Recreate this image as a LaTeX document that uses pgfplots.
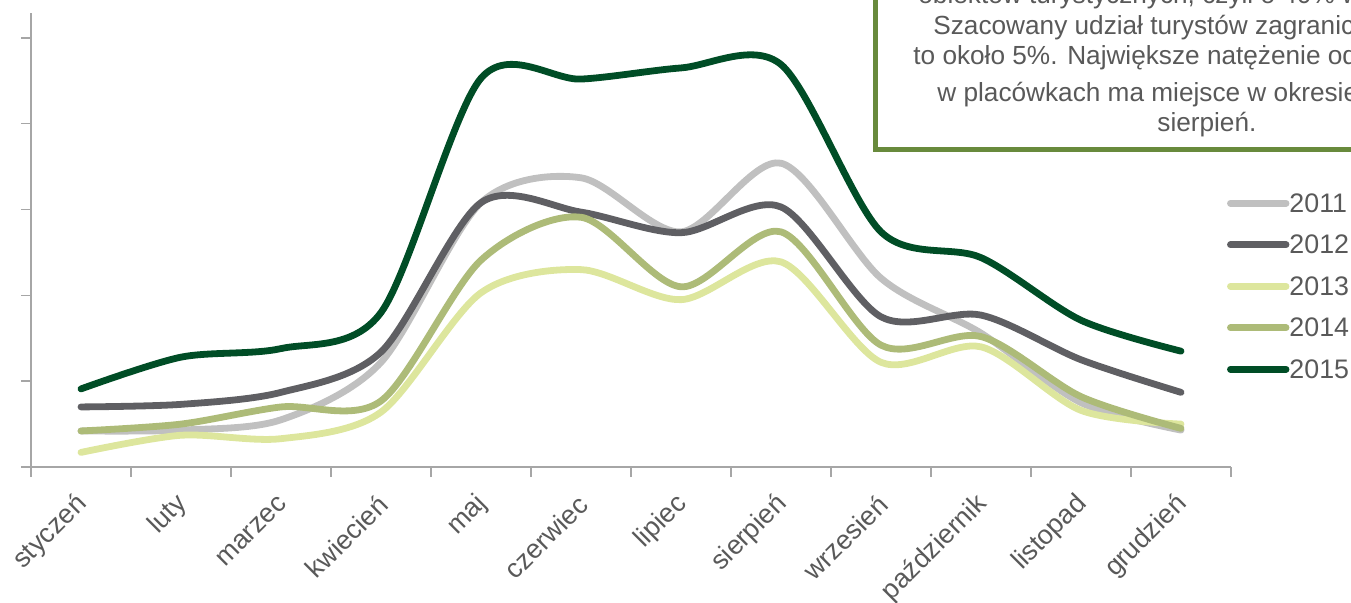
\documentclass[border=0pt]{standalone}
\usepackage{fontspec}
\setmainfont{Liberation Sans}
\usepackage{pgfplots}
\pgfplotsset{compat=1.18}

\definecolor{c2011}{HTML}{C0C0C0}
\definecolor{c2012}{HTML}{5F5F63}
\definecolor{c2013}{HTML}{DDE69D}
\definecolor{c2014}{HTML}{ADBB78}
\definecolor{c2015}{HTML}{004D26}
\definecolor{axgray}{HTML}{A6A6A6}
\definecolor{txtgray}{HTML}{595959}
\definecolor{boxgreen}{HTML}{688A3C}

\newcommand{\lbl}{\fontsize{13.4}{15}\selectfont}
\newcommand{\boxfont}{\fontsize{13.1}{15}\selectfont}

\begin{document}
\begin{tikzpicture}
\useasboundingbox (-15.5pt,-67.5pt) rectangle (660pt,233.5pt);
\clip (-15.5pt,-67.5pt) rectangle (660pt,233.5pt);
\begin{axis}[
  scale only axis, width=600pt, height=227pt,
  xmin=0.5, xmax=12.5, ymin=0, ymax=5.29,
  axis x line*=bottom, axis y line*=left,
  axis line style={axgray, line width=0.7pt, -},
  xtick={0.5,1.5,...,12.5}, xticklabels={},
  ytick={0,1,...,5}, yticklabels={},
  tick align=outside, major tick length=5pt,
  tick style={axgray, line width=0.7pt},
  extra x ticks={1,...,12},
  extra x tick labels={styczeń,luty,marzec,kwiecień,maj,czerwiec,lipiec,sierpień,wrzesień,październik,listopad,grudzień},
  extra x tick style={major tick length=0pt,
    tick label style={xshift=1pt, yshift=-16.5pt, rotate=45, anchor=east, inner sep=0pt, font=\lbl, text=txtgray}},
  legend style={at={(0.9967,0.6267)}, anchor=north west, draw=none, fill=none,
    inner sep=0pt, outer sep=0pt, row sep=0pt, column sep=0pt, font=\lbl, text=txtgray,
    nodes={inner sep=0pt, text height=15pt, text depth=5.75pt}},
  legend cell align=left,
  legend image code/.code={
    \draw[#1, line cap=round] (1.75pt,0pt) -- (26pt,0pt);
    \path (0pt,0pt) -- (27.8pt,0pt);},
  every axis plot/.append style={line width=3.4pt, line cap=round, line join=round, smooth, tension=0.5},
]
\addplot[c2011] coordinates {
  (1,0.42) (2,0.43) (3,0.55) (4,1.22) (5,3.08) (6,3.37)
  (7,2.74) (8,3.54) (9,2.20) (10,1.56) (11,0.75) (12,0.43)};
\addlegendentry{2011}
\addplot[c2012] coordinates {
  (1,0.70) (2,0.73) (3,0.87) (4,1.34) (5,3.08) (6,2.97)
  (7,2.73) (8,3.03) (9,1.75) (10,1.77) (11,1.25) (12,0.87)};
\addlegendentry{2012}
\addplot[c2013] coordinates {
  (1,0.17) (2,0.37) (3,0.33) (4,0.64) (5,2.03) (6,2.30)
  (7,1.95) (8,2.39) (9,1.22) (10,1.40) (11,0.66) (12,0.50)};
\addlegendentry{2013}
\addplot[c2014] coordinates {
  (1,0.42) (2,0.50) (3,0.70) (4,0.77) (5,2.41) (6,2.91)
  (7,2.10) (8,2.74) (9,1.42) (10,1.52) (11,0.82) (12,0.45)};
\addlegendentry{2014}
\addplot[c2015] coordinates {
  (1,0.91) (2,1.28) (3,1.38) (4,1.80) (5,4.53) (6,4.52)
  (7,4.65) (8,4.69) (9,2.74) (10,2.44) (11,1.71) (12,1.35)};
\addlegendentry{2015}
\end{axis}

% text box (cut off by the picture edge)
\draw[boxgreen, line width=2.5pt, fill=white] (422pt,159pt) rectangle (720pt,260pt);
\begin{scope}[every node/.style={anchor=base west, inner sep=0pt, text=txtgray, font=\boxfont}]
\node at (443.5pt,232pt) {obiektów turystycznych, czyli o 40\% więcej};
\node at (451pt,216.5pt) {Szacowany udział turystów zagranicznych};
\node at (441pt,201.5pt) {to około 5\%. Największe natężenie odwiedzin};
\node at (453pt,183pt) {w placówkach ma miejsce w okresie czerwiec --};
\node at (563pt,168pt) {sierpień.};
\end{scope}
\end{tikzpicture}
\end{document}
